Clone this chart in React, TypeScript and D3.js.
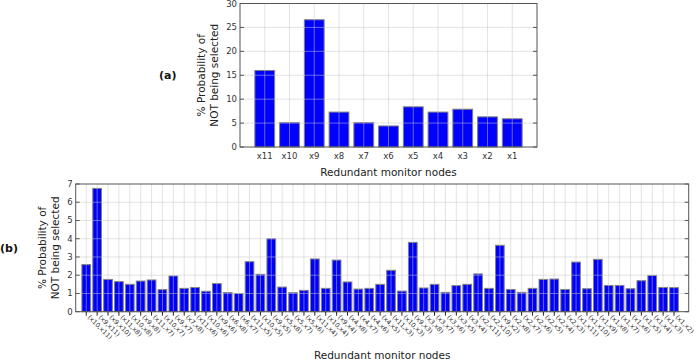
import React, { useRef, useEffect } from "react";
import * as d3 from "d3";

// top chart: single nodes
const singleNodes = ["x11", "x10", "x9", "x8", "x7", "x6", "x5", "x4", "x3", "x2", "x1"];
const singleValues = [16.0, 5.1, 26.6, 7.3, 5.1, 4.4, 8.4, 7.3, 7.9, 6.3, 5.9];
const topTicks = [0, 5, 10, 15, 20, 25, 30];

// bottom chart: node pairs
const pairNodes = [
  "(x10,x11)", "(x9,x11)", "(x9,x10)",
  "(x11,x8)", "(x10,x8)", "(x9,x8)",
  "(x11,x7)", "(x10,x7)", "(x9,x7)", "(x7,x8)",
  "(x11,x6)", "(x10,x6)", "(x9,x6)", "(x6,x8)", "(x6,x7)",
  "(x11,x5)", "(x10,x5)", "(x9,x5)", "(x5,x8)", "(x5,x7)", "(x5,x6)",
  "(x11,x4)", "(x10,x4)", "(x9,x4)", "(x4,x8)", "(x4,x7)", "(x4,x6)", "(x4,x5)",
  "(x11,x3)", "(x10,x3)", "(x9,x3)", "(x3,x8)", "(x3,x7)", "(x3,x6)", "(x3,x5)", "(x3,x4)",
  "(x2,x11)", "(x2,x10)", "(x9,x2)", "(x2,x8)", "(x2,x7)", "(x2,x6)", "(x2,x5)", "(x2,x4)", "(x2,x3)",
  "(x1,x11)", "(x1,x10)", "(x1,x9)", "(x1,x8)", "(x1,x7)", "(x1,x6)", "(x1,x5)", "(x1,x4)", "(x1,x3)", "(x1,x2)",
];
const pairValues = [
  2.58, 6.76, 1.77, 1.65, 1.5, 1.68, 1.74, 1.21, 1.96, 1.28,
  1.33, 1.12, 1.54, 1.05, 1.0, 2.74, 2.05, 4.0, 1.35, 1.04,
  1.17, 2.89, 1.28, 2.83, 1.63, 1.24, 1.28, 1.5, 2.27, 1.13,
  3.8, 1.3, 1.5, 1.06, 1.43, 1.5, 2.07, 1.28, 3.64, 1.22,
  1.06, 1.28, 1.77, 1.79, 1.22, 2.72, 1.26, 2.87, 1.44, 1.44,
  1.26, 1.7, 1.99, 1.33, 1.32,
];
const bottomTicks = [0, 1, 2, 3, 4, 5, 6, 7];

const FONT = "DejaVu Sans, sans-serif";

const App = () => {
  const ref = useRef<SVGSVGElement>(null);

  useEffect(() => {
    const svg = d3.select(ref.current);
    svg.selectAll("*").remove();

    const panel = (opts: {
      names: string[];
      values: number[];
      ticks: number[];
      xDomain: [number, number];
      xRange: [number, number];
      yMax: number;
      yRange: [number, number];
      rotate: boolean;
      tag: string;
      tagX: number;
      ylabX: number;
      xlabY: number;
    }) => {
      const x = d3.scaleLinear().domain(opts.xDomain).range(opts.xRange);
      const y = d3.scaleLinear().domain([0, opts.yMax]).range(opts.yRange);
      const g = svg.append("g");
      const [x0, x1] = opts.xRange;
      const [yb, yt] = opts.yRange;
      const bw = x(0.8) - x(0);

      g.append("rect")
        .attr("x", x0).attr("y", yt)
        .attr("width", x1 - x0).attr("height", yb - yt)
        .attr("fill", "white");

      g.selectAll(".bar")
        .data(opts.values)
        .enter()
        .append("rect")
        .attr("x", (d, i) => x(i) - bw / 2)
        .attr("y", (d) => y(d))
        .attr("width", bw)
        .attr("height", (d) => y(0) - y(d))
        .attr("fill", "#0000ff")
        .attr("stroke", "#808080")
        .attr("stroke-width", 1);

      // grid on top of bars
      g.selectAll(".hgrid")
        .data(opts.ticks.slice(1, -1))
        .enter()
        .append("line")
        .attr("x1", x0).attr("x2", x1)
        .attr("y1", (d) => y(d)).attr("y2", (d) => y(d))
        .attr("stroke", "#c8c8c8").attr("stroke-opacity", 0.5);
      g.selectAll(".vgrid")
        .data(opts.names)
        .enter()
        .append("line")
        .attr("x1", (d, i) => x(i)).attr("x2", (d, i) => x(i))
        .attr("y1", yt).attr("y2", yb)
        .attr("stroke", "#c8c8c8").attr("stroke-opacity", 0.5);

      // frame
      g.append("rect")
        .attr("x", x0).attr("y", yt)
        .attr("width", x1 - x0).attr("height", yb - yt)
        .attr("fill", "none").attr("stroke", "#555").attr("stroke-width", 1);

      // y ticks
      opts.ticks.forEach((t) => {
        g.append("line")
          .attr("x1", x0).attr("x2", x0 + 4)
          .attr("y1", y(t)).attr("y2", y(t))
          .attr("stroke", "#555");
        g.append("line")
          .attr("x1", x1 - 4).attr("x2", x1)
          .attr("y1", y(t)).attr("y2", y(t))
          .attr("stroke", "#555");
        g.append("text")
          .attr("x", x0 - 3)
          .attr("y", y(t) + 3)
          .attr("text-anchor", "end")
          .attr("font-size", 8.5)
          .attr("font-family", FONT)
          .attr("fill", "#333")
          .text(t);
      });

      // x tick labels
      opts.names.forEach((n, i) => {
        if (opts.rotate) {
          g.append("line")
            .attr("x1", x(i)).attr("x2", x(i))
            .attr("y1", yb).attr("y2", yb + 4)
            .attr("stroke", "#222");
          g.append("text")
            .attr("transform", `translate(${x(i) + 1},${yb + 6}) rotate(45)`)
            .attr("font-size", 6.5)
            .attr("font-family", FONT)
            .attr("fill", "#333")
            .text(n);
        } else {
          g.append("text")
            .attr("x", x(i))
            .attr("y", yb + 12)
            .attr("text-anchor", "middle")
            .attr("font-size", 8.5)
            .attr("font-family", FONT)
            .attr("fill", "#333")
            .text(n);
        }
      });

      const cy = (yb + yt) / 2;
      const ylab = g.append("text")
        .attr("transform", `translate(${opts.ylabX},${cy}) rotate(-90)`)
        .attr("text-anchor", "middle")
        .attr("font-size", 10.5)
        .attr("font-family", FONT)
        .attr("fill", "#222");
      ylab.append("tspan").attr("x", 0).attr("dy", 0).text("% Probability of");
      ylab.append("tspan").attr("x", 0).attr("dy", 13).text("NOT being selected");

      g.append("text")
        .attr("x", (x0 + x1) / 2)
        .attr("y", opts.xlabY)
        .attr("text-anchor", "middle")
        .attr("font-size", 10.5)
        .attr("font-family", FONT)
        .attr("fill", "#222")
        .text("Redundant monitor nodes");

      g.append("text")
        .attr("x", opts.tagX)
        .attr("y", cy + 4)
        .attr("font-size", 11)
        .attr("font-weight", "bold")
        .attr("font-family", FONT)
        .attr("fill", "#111")
        .text(opts.tag);
    };

    panel({
      names: singleNodes,
      values: singleValues,
      ticks: topTicks,
      xDomain: [-1, 11],
      xRange: [240, 537],
      yMax: 30,
      yRange: [147, 3.5],
      rotate: false,
      tag: "(a)",
      tagX: 159,
      ylabX: 205,
      xlabY: 176,
    });

    panel({
      names: pairNodes,
      values: pairValues,
      ticks: bottomTicks,
      xDomain: [-0.97, 55.35],
      xRange: [75.7, 688.7],
      yMax: 7,
      yRange: [311.7, 184],
      rotate: true,
      tag: "(b)",
      tagX: 0,
      ylabX: 46,
      xlabY: 359,
    });
  }, []);

  return (
    <svg
      ref={ref}
      width={698}
      height={361}
      style={{ position: "absolute", left: 0, top: 0, background: "white" }}
    />
  );
};

export default App;
